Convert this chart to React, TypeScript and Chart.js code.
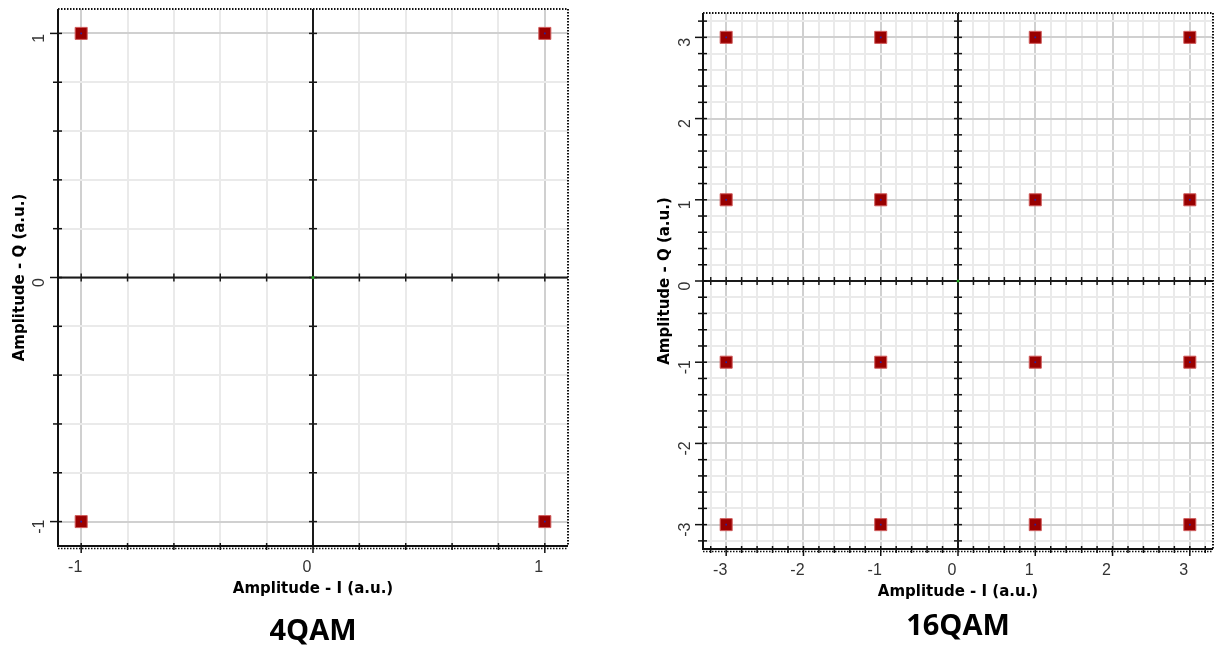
import React, { useEffect, useRef } from 'react';
import { Chart, registerables } from 'chart.js';

Chart.register(...registerables);

// ---------------- data ----------------
const QAM4_I = [-1, 1, -1, 1];
const QAM4_Q = [1, 1, -1, -1];
const QAM16_I = [-3, -1, 1, 3, -3, -1, 1, 3, -3, -1, 1, 3, -3, -1, 1, 3];
const QAM16_Q = [3, 3, 3, 3, 1, 1, 1, 1, -1, -1, -1, -1, -3, -3, -3, -3];
const ORIGIN_I = [0];
const ORIGIN_Q = [0];
const QAM4_RANGE = [-1.1, 1.1];
const QAM16_RANGE = [-3.3, 3.3];
const QAM4_TICK_LABELS = [-1, 0, 1];
const QAM16_TICK_LABELS = [-3, -2, -1, 0, 1, 2, 3];
const GRID_STEP = 0.2;
const QAM4_TITLE = '4QAM';
const QAM16_TITLE = '16QAM';
const X_TITLE = 'Amplitude - I (a.u.)';
const Y_TITLE = 'Amplitude - Q (a.u.)';

// ---------------- layout ----------------
type Layout = {
  left: number; width: number; height: number; padTop: number; padRight: number;
  yWidth: number; xHeight: number; yTitlePad: number; xTitlePad: number;
  yTickPad: number; xTickPad: number; titlePad: number;
};
const LEFT_LAYOUT: Layout = {
  left: 0, width: 610, height: 646, padTop: 9, padRight: 42,
  yWidth: 58, xHeight: 72.25, yTitlePad: 11, xTitlePad: 20,
  yTickPad: 10.9, xTickPad: 12, titlePad: 1.65,
};
const RIGHT_LAYOUT: Layout = {
  left: 640, width: 578, height: 646, padTop: 13, padRight: 5,
  yWidth: 63, xHeight: 64.55, yTitlePad: 16, xTitlePad: 12.85,
  yTickPad: 10.4, xTickPad: 12.4, titlePad: 6.35,
};

const near = (a: number, b: number) => Math.abs(a - b) < 1e-6;

const framePlugin = {
  id: 'qamFrame',
  beforeDatasetsDraw(chart: any, _args: any, opts: any) {
    const { ctx, chartArea, scales } = chart;
    const { left, right, top, bottom } = chartArea;
    const xs = scales.x;
    const ys = scales.y;
    const labels: number[] = opts.labels || [];
    const isMajor = (v: number) => labels.some((l) => near(l, v));
    const seg = (x1: number, y1: number, x2: number, y2: number) => {
      ctx.beginPath();
      ctx.moveTo(x1, y1);
      ctx.lineTo(x2, y2);
      ctx.stroke();
    };
    ctx.save();
    ctx.lineCap = 'butt';
    // dotted borders
    ctx.strokeStyle = '#111';
    ctx.lineWidth = 2;
    ctx.setLineDash([1.5, 1.5]);
    seg(left, top, right, top);
    seg(right, top, right, bottom);
    ctx.lineWidth = 1.5;
    seg(left, bottom + 2.5, right, bottom + 2.5);
    ctx.setLineDash([]);

    // zero axes
    const x0 = xs.getPixelForValue(0);
    const y0 = ys.getPixelForValue(0);
    ctx.strokeStyle = '#1a1a1a';
    ctx.lineWidth = 2;
    seg(x0, top, x0, bottom);
    seg(left, y0, right, y0);
    ctx.lineWidth = 1.5;
    ys.ticks.forEach((t: any) => {
      const p = ys.getPixelForValue(t.value);
      seg(x0 - 4, p, x0 + 4, p);
    });
    xs.ticks.forEach((t: any) => {
      const p = xs.getPixelForValue(t.value);
      seg(p, y0 - 4, p, y0 + 4);
    });

    // left border with ticks
    ctx.strokeStyle = '#111';
    ctx.lineWidth = 2;
    seg(left, top, left, bottom + 1);
    ctx.lineWidth = 1.5;
    ys.ticks.forEach((t: any) => {
      const p = ys.getPixelForValue(t.value);
      if (isMajor(t.value)) seg(left - 8, p, left + 4, p);
      else seg(left - 5, p, left + 4, p);
    });
    // bottom border with ticks
    ctx.lineWidth = 2;
    seg(left - 1, bottom, right, bottom);
    ctx.lineWidth = 1.5;
    xs.ticks.forEach((t: any) => {
      const p = xs.getPixelForValue(t.value);
      if (isMajor(t.value)) seg(p, bottom - 3, p, bottom + 7);
      else seg(p, bottom - 3, p, bottom + 4);
    });
    ctx.restore();
  },
};

function makeConfig(
  iVals: number[], qVals: number[], range: number[], tickLabels: number[],
  title: string, L: Layout
): any {
  const isMajor = (v: number) => tickLabels.some((l) => near(l, v));
  const pts = iVals.map((v, i) => ({ x: v, y: qVals[i] }));
  const origin = ORIGIN_I.map((v, i) => ({ x: v, y: ORIGIN_Q[i] }));
  const gridTicks = (scale: any) => {
    const out: any[] = [];
    const a = Math.ceil(range[0] / GRID_STEP - 1e-9);
    const b = Math.floor(range[1] / GRID_STEP + 1e-9);
    for (let k = a; k <= b; k++) out.push({ value: Math.round(k * GRID_STEP * 10) / 10 });
    scale.ticks = out;
  };
  const zeroPad = (s: any) => {
    s.paddingTop = 0;
    s.paddingBottom = 0;
    s.paddingLeft = 0;
    s.paddingRight = 0;
  };
  const gridColor = (c: any) => {
    const v = c.tick ? c.tick.value : undefined;
    return v !== undefined && isMajor(v) ? '#d0d0d0' : '#eaeaea';
  };
  const labelCb = (v: any) => (isMajor(Number(v)) ? String(Math.round(Number(v))) : '');
  const tickFont = { family: "'Liberation Sans', Arial, sans-serif", size: 16 };
  const axisTitleFont = { family: "'DejaVu Sans', sans-serif", size: 15, weight: 'bold', lineHeight: 1.2 };

  return {
    type: 'scatter',
    data: {
      datasets: [
        {
          data: pts, pointStyle: 'rect', pointRadius: 1.2, pointHoverRadius: 1.2,
          backgroundColor: '#2323a8', borderWidth: 0,
        },
        {
          data: pts, pointStyle: 'rect', pointRadius: 8.5, pointHoverRadius: 8.5,
          backgroundColor: '#990000', borderColor: '#cf5b5b', borderWidth: 1,
        },
        {
          data: origin, pointStyle: 'circle', pointRadius: 1.5, pointHoverRadius: 1.5,
          backgroundColor: '#22aa22', borderWidth: 0,
        },
      ],
    },
    options: {
      animation: false,
      responsive: false,
      maintainAspectRatio: false,
      devicePixelRatio: 1,
      events: [],
      layout: { autoPadding: false, padding: { top: L.padTop, right: L.padRight, left: 0, bottom: 0 } },
      plugins: {
        legend: { display: false },
        tooltip: { enabled: false },
        title: {
          display: true, text: title, position: 'bottom', fullSize: false, align: 'center',
          color: '#000',
          font: { family: "'Open Sans', sans-serif", size: 29, weight: 'bold', lineHeight: 0.9 },
          padding: { top: 0, bottom: L.titlePad },
        },
        qamFrame: { labels: tickLabels },
      },
      scales: {
        x: {
          type: 'linear', position: 'bottom', min: range[0], max: range[1],
          afterBuildTicks: gridTicks,
          afterFit: (s: any) => { s.height = L.xHeight; zeroPad(s); },
          grid: { color: gridColor, lineWidth: 2, drawTicks: false },
          border: { display: false },
          ticks: {
            autoSkip: false, maxRotation: 0, minRotation: 0, padding: L.xTickPad, labelOffset: -6,
            color: '#333', font: tickFont, callback: labelCb,
          },
          title: {
            display: true, text: X_TITLE, color: '#000', font: axisTitleFont,
            padding: { top: 0, bottom: L.xTitlePad },
          },
        },
        y: {
          type: 'linear', position: 'left', min: range[0], max: range[1],
          afterBuildTicks: gridTicks,
          afterFit: (s: any) => { s.width = L.yWidth; zeroPad(s); },
          grid: { color: gridColor, lineWidth: 2, drawTicks: false },
          border: { display: false },
          ticks: {
            autoSkip: false, minRotation: 90, maxRotation: 90, crossAlign: 'center',
            padding: L.yTickPad, labelOffset: 5, color: '#333', font: tickFont, callback: labelCb,
          },
          title: {
            display: true, text: Y_TITLE, color: '#000', font: axisTitleFont,
            padding: { top: L.yTitlePad, bottom: 0 },
          },
        },
      },
    },
    plugins: [framePlugin],
  };
}

function ConstellationChart(props: {
  iVals: number[]; qVals: number[]; range: number[]; tickLabels: number[]; title: string; layout: Layout;
}) {
  const ref = useRef<HTMLCanvasElement>(null);
  const { iVals, qVals, range, tickLabels, title, layout } = props;
  useEffect(() => {
    if (!ref.current) return;
    const chart = new Chart(ref.current, makeConfig(iVals, qVals, range, tickLabels, title, layout));
    return () => chart.destroy();
  }, []);
  return (
    <canvas
      ref={ref}
      width={layout.width}
      height={layout.height}
      style={{ position: 'absolute', left: layout.left, top: 0, width: layout.width, height: layout.height }}
    />
  );
}

export default function App() {
  return (
    <div
      style={{
        position: 'fixed', left: 0, top: 0, width: 1218, height: 646,
        background: '#ffffff', overflow: 'hidden',
      }}
    >
      <ConstellationChart
        iVals={QAM4_I} qVals={QAM4_Q} range={QAM4_RANGE} tickLabels={QAM4_TICK_LABELS}
        title={QAM4_TITLE} layout={LEFT_LAYOUT}
      />
      <ConstellationChart
        iVals={QAM16_I} qVals={QAM16_Q} range={QAM16_RANGE} tickLabels={QAM16_TICK_LABELS}
        title={QAM16_TITLE} layout={RIGHT_LAYOUT}
      />
    </div>
  );
}
